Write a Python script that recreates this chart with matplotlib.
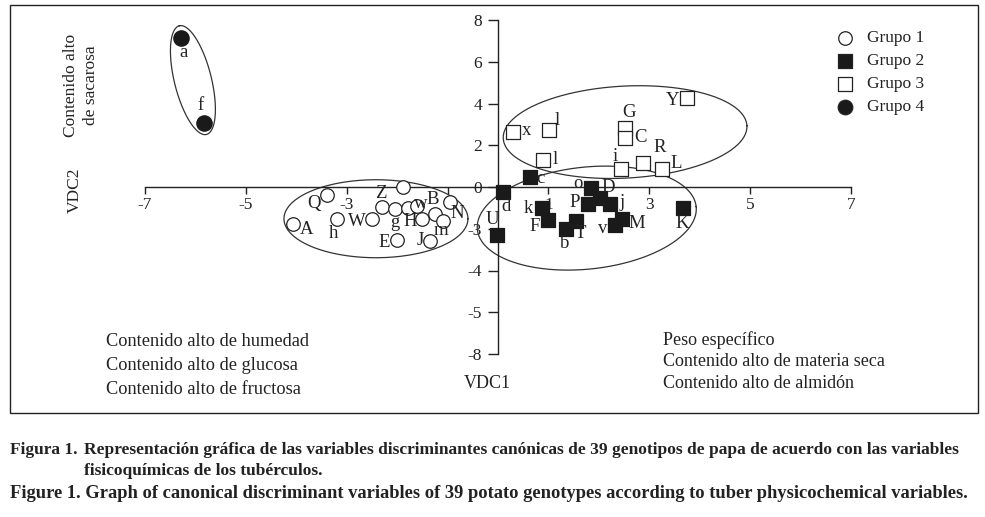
import numpy as np
import matplotlib.pyplot as plt
from matplotlib.patches import Rectangle

plt.rcParams['font.family'] = ['Liberation Serif', 'DejaVu Serif']

# group 1 (open circles)
g1_x = [-4.07, -3.39, -3.19, -2.50, -2.30, -2.04, -1.88, -1.78, -1.61, -0.95, -1.51, -1.25, -1.09, -2.00, -1.35]
g1_y = [-1.77, -0.38, -1.53, -1.53, -0.96, -1.05, 0.02, -1.00, -0.91, -0.72, -1.53, -1.29, -1.63, -2.54, -2.59]
g1_lab = ['A', 'Q', 'h', 'W', 'Z', 'g', '', 'w', 'B', 'N', 'H', '', 'm', 'E', 'J']
# group 2 (filled squares)
g2_x = [0.63, 0.10, -0.02, 0.87, 0.99, 1.35, 1.55, 1.84, 2.02, 1.78, 2.22, 2.32, 2.46, 3.67]
g2_y = [0.48, -0.24, -2.30, -1.01, -1.58, -2.01, -1.63, -0.05, -0.53, -0.81, -0.81, -1.82, -1.53, -1.01]
g2_lab = ['c', 'd', 'U', 'k', 'F', 'b', 'T', 'o', 'D', 'P', 'j', 'v', 'M', 'K']
# group 3 (open squares)
g3_x = [0.30, 1.01, 0.89, 2.52, 2.52, 2.44, 2.88, 3.25, 3.75]
g3_y = [2.63, 2.73, 1.29, 2.83, 2.35, 0.86, 1.15, 0.86, 4.26]
g3_lab = ['x', 'l', 'l', 'G', 'C', 'i', 'R', 'L', 'Y']
# group 4 (filled circles)
g4_x = [-6.29, -5.83]
g4_y = [7.14, 3.07]
g4_lab = ['a', 'f']

xticks = [-7, -5, -3, -1, 1, 3, 5, 7]
xtick_lab = ['-7', '-5', '-3', '', '1', '3', '5', '7']
yticks = [8, 6, 4, 2, 0, -2, -4, -6, -8]
ytick_lab = ['8', '6', '4', '2', '0', '-3', '-4', '-5', '-8']

# label offsets in pixels (right, down)
g1_off = [(14, 6), (-13, 9), (-4, 15), (-15, 3), (-1, -14), (0, 14), (0, 0), (12, -4), (16, -6),
          (7, 11), (-12, 3), (0, 0), (-2, 9), (-13, 2), (-10, -1)]
g2_off = [(11, 2), (3, 14), (-5, -16), (-14, 0), (-13, 7), (-1, 15), (4, 12), (-13, -5), (8, -11),
          (-13, -1), (12, -1), (-12, 4), (15, 5), (-1, 15)]
g3_off = [(13, -2), (8, -10), (12, -1), (4, -15), (15, 0), (-6, -13), (16, -15), (14, -6), (-15, 2)]
g4_off = [(3, 15), (-3, -17)]

W, H = 985, 517
fig = plt.figure(figsize=(W / 100, H / 100), dpi=100)
ax = fig.add_axes([145 / W, (H - 354) / H, 706 / W, 334 / H])
ax.set_xlim(-7, 7)
ax.set_ylim(-8, 8)

ink = '#222222'
for s in ['top', 'right']:
    ax.spines[s].set_visible(False)
for s in ['left', 'bottom']:
    ax.spines[s].set_position(('data', 0))
    ax.spines[s].set_color(ink)
    ax.spines[s].set_linewidth(1.0)
ax.set_xticks(xticks)
ax.set_xticklabels(xtick_lab)
ax.set_yticks(yticks)
ax.set_yticklabels(ytick_lab)
ax.tick_params(axis='both', direction='out', width=1.0, color=ink,
               labelsize=12.5, labelcolor=ink)
ax.tick_params(axis='x', length=5, pad=2)
ax.tick_params(axis='y', length=7.5, pad=4)
ax.patch.set_alpha(0)

# ellipses drawn in pixel units around a data centre
sx = 706 / 14
sy = 334 / 16
t = np.linspace(0, 2 * np.pi, 300)


def ellipse(cx, cy, a, b, ang):
    th = np.radians(ang)
    dx = a * np.cos(t) * np.cos(th) - b * np.sin(t) * np.sin(th)
    dy = a * np.cos(t) * np.sin(th) + b * np.sin(t) * np.cos(th)
    ax.plot(cx + dx / sx, cy + dy / sy, color='#333333', lw=0.9, zorder=2)


ellipse(-6.05, 5.12, 56, 18.5, 104)
ellipse(-2.42, -1.52, 92, 39, 0)
ellipse(1.76, -1.49, 110, 51, 6)
ellipse(2.52, 2.63, 122, 46, 3)

ms = 95
ax.scatter(g1_x, g1_y, s=ms, marker='o', facecolor='white', edgecolor=ink, linewidth=0.9, zorder=4)
ax.scatter(g2_x, g2_y, s=ms, marker='s', facecolor='#1a1a1a', edgecolor='#1a1a1a', linewidth=0.9, zorder=4)
ax.scatter(g3_x, g3_y, s=ms, marker='s', facecolor='white', edgecolor=ink, linewidth=0.9, zorder=4)
ax.scatter(g4_x, g4_y, s=120, marker='o', facecolor='#1a1a1a', edgecolor='#1a1a1a', zorder=4)

for xs, ys, labs, offs in [(g1_x, g1_y, g1_lab, g1_off), (g2_x, g2_y, g2_lab, g2_off),
                           (g3_x, g3_y, g3_lab, g3_off), (g4_x, g4_y, g4_lab, g4_off)]:
    for x, y, lab, (ox, oy) in zip(xs, ys, labs, offs):
        if lab:
            ax.annotate(lab, (x, y), xytext=(ox * 0.72, -oy * 0.72), textcoords='offset points',
                        ha='center', va='center', fontsize=13.5, color=ink, zorder=5)

# legend
leg = [('o', 'white', 'Grupo 1'), ('s', '#1a1a1a', 'Grupo 2'), ('s', 'white', 'Grupo 3'), ('o', '#1a1a1a', 'Grupo 4')]
for i, (m, fc, txt) in enumerate(leg):
    yy = 1 - (38 + i * 23) / H
    ax.scatter([845 / W], [yy], s=110 if fc != 'white' or m == 's' else 95, marker=m, facecolor=fc,
               edgecolor=ink, linewidth=0.9, transform=fig.transFigure, clip_on=False, zorder=4)
    fig.text(867 / W, yy, txt, fontsize=12.5, color=ink, va='center', ha='left')


def ftext(x, y, s, **kw):
    fig.text(x / W, 1 - y / H, s, color=ink, **kw)


ftext(81, 85, 'Contenido alto\nde sacarosa', fontsize=12.5, rotation=90, ha='center', va='center',
      multialignment='center', linespacing=1.35)
ftext(75, 190, 'VDC2', fontsize=12.5, rotation=90, ha='center', va='center')
ftext(487, 384, 'VDC1', fontsize=13, ha='center', va='center')
for i, s in enumerate(['Contenido alto de humedad', 'Contenido alto de glucosa', 'Contenido alto de fructosa']):
    ftext(106, 342 + i * 23.5, s, fontsize=13.2, ha='left', va='center')
for i, s in enumerate(['Peso específico', 'Contenido alto de materia seca', 'Contenido alto de almidón']):
    ftext(663, 340 + i * 22, s, fontsize=13, ha='left', va='center')

fig.patches.append(Rectangle((10 / W, 1 - 413 / H), 968 / W, 408 / H, transform=fig.transFigure,
                             fill=False, edgecolor=ink, linewidth=1.0))

cap = dict(fontweight='bold', ha='left', va='center')
ftext(10, 450, 'Figura 1.', fontsize=12.5, **cap)
ftext(84, 450, 'Representación gráfica de las variables discriminantes canónicas de 39 genotipos '
               'de papa de acuerdo con las variables', fontsize=12.5, **cap)
ftext(84, 471, 'fisicoquímicas de los tubérculos.', fontsize=12.5, **cap)
ftext(10, 493, 'Figure 1. Graph of canonical discriminant variables of 39 potato genotypes '
               'according to tuber physicochemical variables.', fontsize=13.3, **cap)

fig.savefig('out.png', dpi=100)
